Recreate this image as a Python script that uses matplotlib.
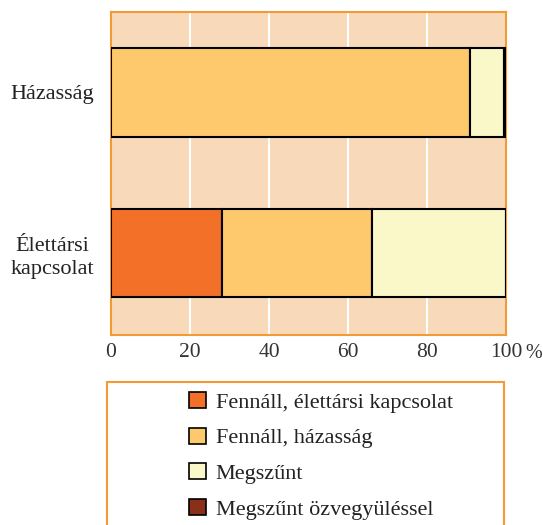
import numpy as np
from matplotlib import pyplot as plt
from matplotlib.patches import Patch, Rectangle

# ======================data======================
categories = ['Élettársi\nkapcsolat', 'Házasság']
series = ['Fennáll, élettársi kapcsolat', 'Fennáll, házasság',
          'Megszűnt', 'Megszűnt özvegyüléssel']
values = {
    'Fennáll, élettársi kapcsolat': [28, 0],
    'Fennáll, házasság': [38, 91],
    'Megszűnt': [34, 8.5],
    'Megszűnt özvegyüléssel': [0, 0.5],
}
colors = ['#F37029', '#FEC86C', '#FAF7C8', '#8B3018']
xticks = [0, 20, 40, 60, 80, 100]
xticklabels = ['0', '20', '40', '60', '80', '100']

# ======================plot======================
plt.rcParams['font.family'] = ['Liberation Serif', 'DejaVu Serif']
fig = plt.figure(figsize=(5.43, 5.25), dpi=100)
ax = fig.add_axes([111 / 543, 1 - 335 / 525, 395 / 543, 323 / 525])
ax.set_facecolor('#F8DABB')

y = np.arange(len(categories))
left = np.zeros(len(categories))
for s, c in zip(series, colors):
    v = np.array(values[s], dtype=float)
    ax.barh(y, v, left=left, height=0.55, color=c, edgecolor='black',
            linewidth=1.5, zorder=3)
    left += v

ax.set_xlim(0, 100)
ax.set_ylim(-0.51, 1.5)
ax.set_xticks(xticks)
ax.set_xticklabels(xticklabels, fontsize=15.5, color='#333333')
ax.set_yticks(y)
ax.set_yticklabels(categories, fontsize=16, color='#222222',
                   multialignment='center', linespacing=1.3)
ax.tick_params(length=0, pad=6)
ax.tick_params(axis='y', pad=12)
for xv in xticks[1:-1]:
    ax.axvline(xv, color='white', linewidth=1.5, zorder=1)
for sp in ax.spines.values():
    sp.set_color('#F39A37')
    sp.set_linewidth(1.5)
ax.text(1.05, -0.028, '%', transform=ax.transAxes, fontsize=14.5,
        color='#333333', ha='left', va='top')

# legend box
fig.patches.append(Rectangle((107 / 543, -0.05), 397 / 543, 0.05 + 1 - 382 / 525,
                             transform=fig.transFigure, fill=False,
                             edgecolor='#F39A37', linewidth=1.5))
handles = [Patch(facecolor=c, edgecolor='black', linewidth=1.2, label=s)
           for s, c in zip(series, colors)]
fig.legend(handles=handles, loc='upper left',
           bbox_to_anchor=(169 / 543, 1 - 372 / 525), frameon=False,
           fontsize=16, handlelength=0.75, handleheight=0.75,
           handletextpad=0.45, labelspacing=0.66, labelcolor='#222222')

fig.savefig('out.png', dpi=100)
